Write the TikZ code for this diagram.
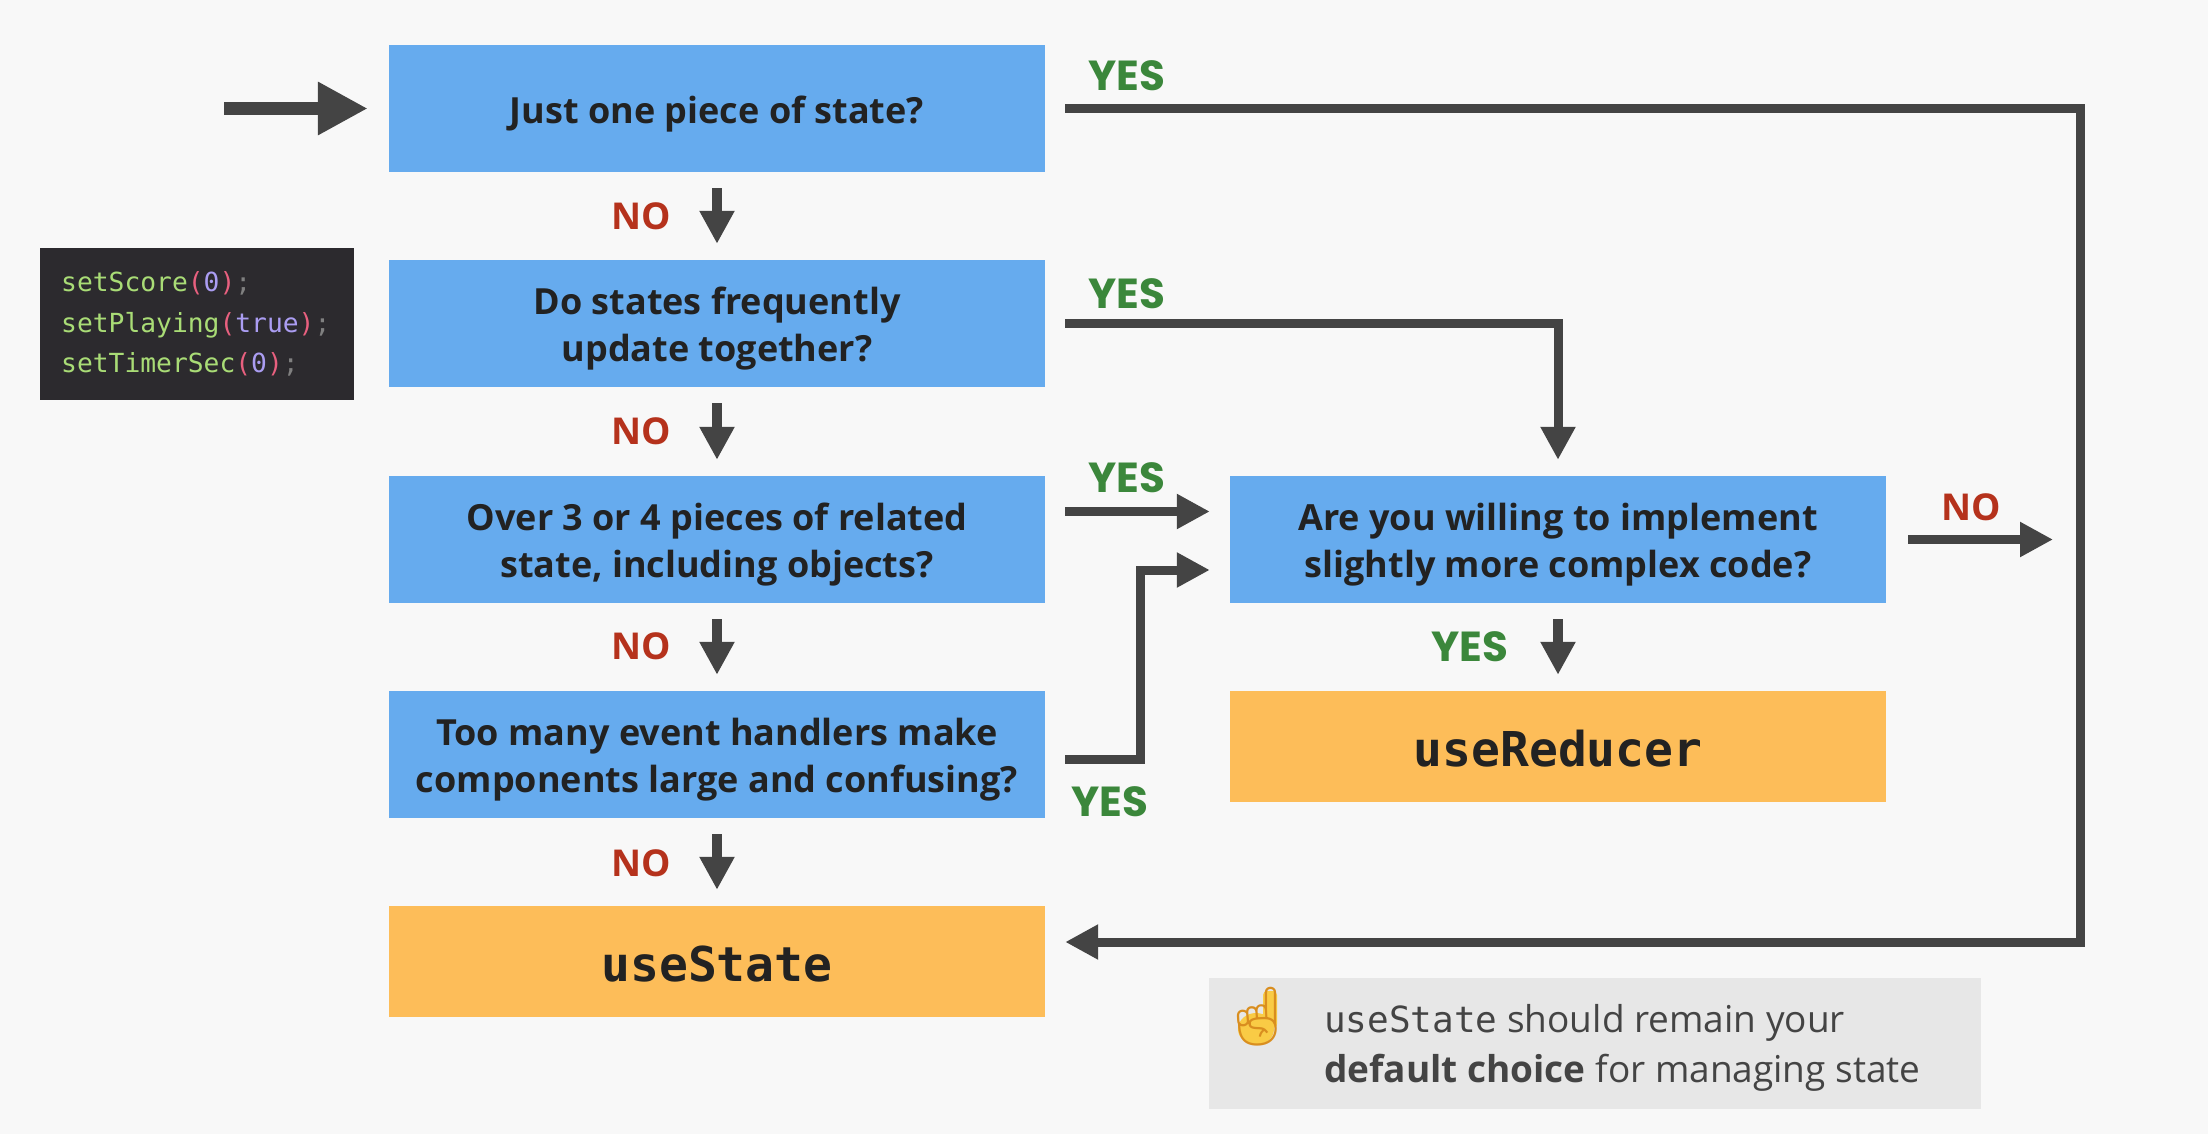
\documentclass[tikz,border=0pt]{standalone}
\usepackage{fontspec}
\usepackage{tikz}
\usetikzlibrary{positioning,arrows.meta,calc}
\setmainfont{Open Sans}
\setmonofont{DejaVu Sans Mono}
\newfontfamily\yesfont{Poppins}
\newfontfamily\emojifont{Noto Emoji}
\definecolor{pageBg}{HTML}{F8F8F8}
\definecolor{qBlue}{HTML}{66ABEE}
\definecolor{hookOrange}{HTML}{FDBD59}
\definecolor{flowGray}{HTML}{444444}
\definecolor{inkDark}{HTML}{222222}
\definecolor{yesGreen}{HTML}{3B873B}
\definecolor{noRed}{HTML}{B5321C}
\definecolor{codeBg}{HTML}{2C2A2E}
\definecolor{codeGreen}{HTML}{A9DC76}
\definecolor{codePink}{HTML}{E8607F}
\definecolor{codePurple}{HTML}{AB9DF2}
\definecolor{codeGray}{HTML}{808080}
\definecolor{tipBg}{HTML}{E7E7E7}
\definecolor{tipInk}{HTML}{444444}
\definecolor{tipYellow}{HTML}{F9CB45}
\definecolor{tipAmber}{HTML}{D98E1F}
\newcommand{\cdf}[1]{\textcolor{codeGreen}{#1}}
\newcommand{\cdp}[1]{\textcolor{codePink}{#1}}
\newcommand{\cdv}[1]{\textcolor{codePurple}{#1}}
\newcommand{\cde}{\textcolor{codeGray}{;}}

\begin{document}
\begin{tikzpicture}[x=1pt, y=-1pt,
    qbox/.style={rectangle, fill=qBlue, text=inkDark, minimum width=656pt, minimum height=127pt, inner sep=0pt, align=center, text height=76pt, text depth=0pt, font=\fontsize{36}{47.5}\selectfont\bfseries},
    hookbox/.style={rectangle, fill=hookOrange, text=inkDark, minimum width=656pt, minimum height=111pt, inner sep=0pt, text height=40pt, text depth=0pt, font=\fontsize{48}{50}\selectfont\ttfamily\bfseries},
    yeslabel/.style={text=yesGreen, inner sep=0pt, font=\fontsize{42}{44}\selectfont\yesfont\bfseries},
    nolabel/.style={text=noRed, inner sep=0pt, font=\fontsize{37}{40}\selectfont\bfseries},
    flow/.style={draw=flowGray, line width=9pt, -{Triangle[length=33pt,width=33pt]}},
    stepflow/.style={flow, line width=10pt, shorten <=16pt, shorten >=16pt}]
  \fill[pageBg] (0,0) rectangle (2208,1134);
  \useasboundingbox (0,0) rectangle (2208,1134);

  % questions
  \node[qbox, text height=31pt] (q1) at (717,108.5) {Just one piece of state?};
  \node[qbox] (q2) at (717,323.5) {Do states frequently\\update together?};
  \node[qbox] (q3) at (717,539.5) {Over 3 or 4 pieces of related\\state, including objects?};
  \node[qbox] (q4) at (717,754.5) {Too many event handlers make\\components large and confusing?};
  \node[qbox] (q5) at (1558,539.5) {Are you willing to implement\\slightly more complex code?};

  % answers
  \node[hookbox] (us) at (717,961.5) {useState};
  \node[hookbox] (ur) at (1558,746.5) {useReducer};

  % code
  \node[rectangle, fill=codeBg, minimum width=314pt, minimum height=152pt, inner sep=0pt] (code) at (197,324) {};
  \node[anchor=west, inner sep=0pt, align=left, font=\fontsize{26.3}{40.5}\selectfont\ttfamily] (codetext) at (61,324) {\cdf{setScore}\cdp{(}\cdv{0}\cdp{)}\cde\\\cdf{setPlaying}\cdp{(}\cdv{true}\cdp{)}\cde\\\cdf{setTimerSec}\cdp{(}\cdv{0}\cdp{)}\cde};

  % tip
  \node[rectangle, fill=tipBg, minimum width=772pt, minimum height=131pt, inner sep=0pt] (tip) at (1595,1043.5) {};
  \fill[tipYellow, rounded corners=4pt] (1263,991) rectangle (1277,1028);
  \fill[tipYellow] (1256,1029) ellipse[x radius=18, y radius=16];
  \node[text=tipAmber, inner sep=0pt, font=\fontsize{58}{58}\selectfont\emojifont] (finger) at (1257,1017) {^^^^261d};
  \node[anchor=west, text=tipInk, inner sep=0pt, align=left, font=\fontsize{37}{50}\selectfont] (tiptext) at (1324,1048) {{\fontsize{36}{50}\selectfont\ttfamily useState} should remain your\\\textbf{default choice} for managing state};

  % free ends
  \coordinate (start) at (224,108.5);
  \coordinate (c1) at (2080,108.5);
  \coordinate (c2) at (2080,942);
  \coordinate (c3) at (1558,323.5);
  \coordinate (c4) at (1140,759);
  \coordinate (c5) at (1140,570);
  \coordinate (right) at (2053,539.5);

  % labels
  \node[yeslabel] (y1) at (1127,76) {YES};
  \node[yeslabel] (y2) at (1127,294) {YES};
  \node[yeslabel] (y3) at (1127,478) {YES};
  \node[yeslabel] (y4) at (1110,802) {YES};
  \node[yeslabel] (y5) at (1470,647) {YES};
  \node[nolabel] (n1) at (641,216) {NO};
  \node[nolabel] (n2) at (641,431) {NO};
  \node[nolabel] (n3) at (641,646) {NO};
  \node[nolabel] (n4) at (641,863) {NO};
  \node[nolabel] (n5) at (1971,507) {NO};

  % connectors
  \draw[flow, line width=13pt, -{Triangle[length=50pt,width=50pt]}, shorten >=21pt] (start) -- (q1);
  \draw[stepflow] (q1) -- (q2);
  \draw[stepflow] (q2) -- (q3);
  \draw[stepflow] (q3) -- (q4);
  \draw[stepflow] (q4) -- (us);
  \draw[stepflow] (q5) -- (ur);
  \draw[flow, shorten <=20pt] (q1.east) -- (c1) -- (c2) -- ($(us.east |- c2)+(20,0)$);
  \draw[flow, shorten <=20pt] (q2.east) -- (c3) -- ($(q5.north)+(0,-16)$);
  \draw[flow, shorten <=20pt] ($(q3.east)+(0,-28)$) -- ($(q5.west)+(-20,-28)$);
  \draw[flow, shorten <=20pt] (q4.east |- c4) -- (c4) -- (c5) -- ($(q5.west |- c5)+(-20,0)$);
  \draw[flow, shorten <=22pt] (q5.east) -- (right);
\end{tikzpicture}
\end{document}
